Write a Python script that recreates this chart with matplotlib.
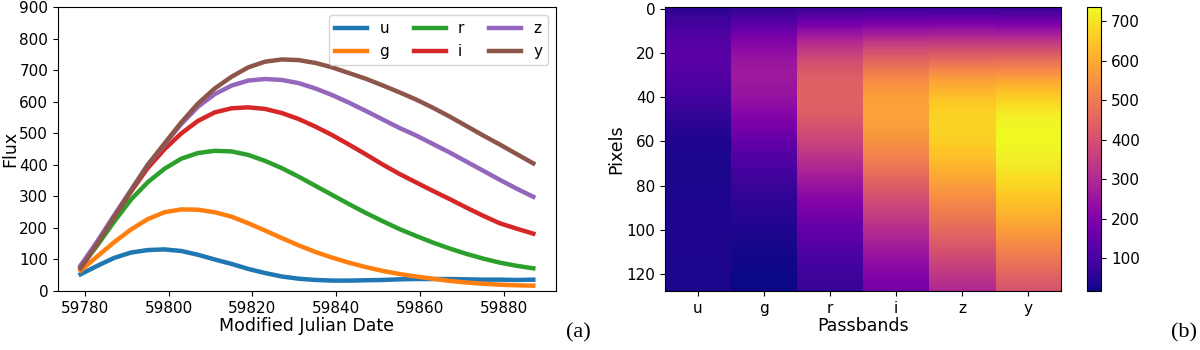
import numpy as np
import matplotlib
matplotlib.use("Agg")
import matplotlib.pyplot as plt

bands = ["u", "g", "r", "i", "z", "y"]
colors = ["tab:blue", "tab:orange", "tab:green", "tab:red", "tab:purple", "tab:brown"]
mjd = np.arange(59779, 59888, 4)

flux_u = [53, 80, 105, 122, 130, 132, 127, 115, 100, 86, 70, 57, 46, 39,
          35, 33, 33, 34, 35, 37, 38, 38, 38, 37, 36, 36, 35, 36]
flux_g = [65, 110, 155, 195, 228, 250, 259, 258, 250, 236, 215, 192, 168, 145,
          124, 106, 90, 76, 64, 54, 46, 39, 32, 27, 23, 20, 18, 17]
flux_r = [75, 145, 220, 290, 345, 388, 420, 438, 445, 443, 432, 413, 390, 363,
          334, 305, 276, 248, 222, 197, 175, 154, 135, 118, 103, 90, 80, 72]
flux_i = [80, 155, 235, 315, 390, 450, 500, 540, 567, 580, 583, 578, 565, 546,
          522, 495, 465, 434, 402, 372, 345, 318, 292, 265, 239, 215, 198, 182]
flux_z = [80, 158, 240, 320, 400, 465, 530, 585, 625, 652, 668, 673, 670, 660,
          643, 622, 598, 572, 545, 518, 494, 467, 440, 411, 382, 353, 325, 299]
flux_y = [72, 150, 235, 318, 400, 468, 535, 595, 643, 680, 710, 728, 735, 733,
          724, 710, 692, 674, 653, 631, 608, 582, 554, 524, 494, 465, 435, 405]

n_pixels = 128

fluxes = [flux_u, flux_g, flux_r, flux_i, flux_z, flux_y]

fig = plt.figure(figsize=(12, 3.5), dpi=100)

# --- (a) light curves ---
ax1 = fig.add_axes([0.0483, 0.1686, 0.415, 0.81])
for name, col, f in zip(bands, colors, fluxes):
    ax1.plot(mjd, f, color=col, lw=3.2, label=name, solid_joinstyle="round")
ax1.set_ylim(0, 900)
ax1.set_yticks(range(0, 901, 100))
ax1.set_xticks([59780, 59800, 59820, 59840, 59860, 59880])
ax1.set_xlabel("Modified Julian Date", fontsize=12.5, labelpad=1)
ax1.set_ylabel("Flux", fontsize=12.5, labelpad=0)
ax1.tick_params(labelsize=11)
ax1.legend(ncol=3, loc="upper right", fontsize=11, handlelength=2.1,
           columnspacing=1.6)

# --- (b) image of the light curves, one column per passband ---
pix = np.linspace(mjd[0], mjd[-1], n_pixels)
img = np.column_stack([np.interp(pix, mjd, f) for f in fluxes])

ax2 = fig.add_axes([0.5542, 0.1686, 0.33, 0.81])
im = ax2.imshow(img, aspect="auto", cmap="plasma", interpolation="nearest")
ax2.set_xticks(range(len(bands)))
ax2.set_xticklabels(bands)
ax2.set_yticks([0, 20, 40, 60, 80, 100, 120])
ax2.set_xlabel("Passbands", fontsize=12.5, labelpad=1)
ax2.set_ylabel("Pixels", fontsize=12.5, labelpad=1)
ax2.tick_params(labelsize=11)

cax = fig.add_axes([0.906, 0.1686, 0.0117, 0.81])
cb = fig.colorbar(im, cax=cax)
cb.set_ticks([100, 200, 300, 400, 500, 600, 700])
cb.ax.tick_params(labelsize=11)

fig.text(0.482, 0.05, "(a)", fontsize=16, family="Liberation Serif",
         ha="center", va="center")
fig.text(0.987, 0.05, "(b)", fontsize=16, family="Liberation Serif",
         ha="center", va="center")

fig.savefig("out.png", dpi=100)
